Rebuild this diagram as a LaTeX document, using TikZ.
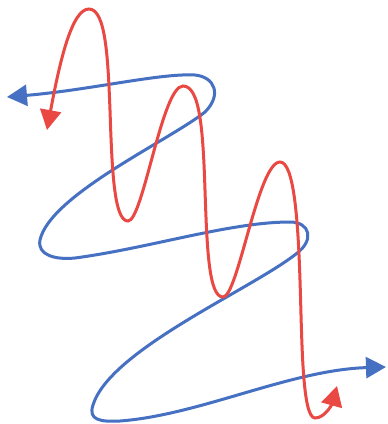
\documentclass[tikz,border=0pt]{standalone}
\usetikzlibrary{arrows.meta}
\definecolor{cred}{RGB}{234,72,66}
\definecolor{cblue}{RGB}{70,112,194}
\tikzset{
  wave/.style={line width=3pt, line cap=round, {Triangle[length=20pt,width=21pt]}-{Triangle[length=20pt,width=21pt]}},
}
\begin{document}
\begin{tikzpicture}[x=1pt,y=-1pt]
\useasboundingbox[fill=white] (0,0) rectangle (388,424);
% blue curve
\draw[wave, cblue] (7,97) .. controls (90,90) and (160,73) .. (195,75)
  .. controls (215,77) and (222,95) .. (205,112)
  .. controls (170,140) and (50,195) .. (40,240)
  .. controls (37,255) and (55,260) .. (75,258)
  .. controls (150,248) and (230,222) .. (290,222)
  .. controls (310,222) and (315,240) .. (296,254)
  .. controls (250,290) and (110,350) .. (93,405)
  .. controls (88,420) and (100,422) .. (120,421)
  .. controls (200,415) and (290,370) .. (386,367);
% red curve
\draw[wave, cred] (47,130) .. controls (60,60) and (72,9) .. (89,9)
  .. controls (106,9) and (108,60) .. (110,110)
  .. controls (112,170) and (114,221) .. (128,221)
  .. controls (143,221) and (162,86) .. (183,86)
  .. controls (200,86) and (203,130) .. (205,190)
  .. controls (207,250) and (209,297) .. (223,297)
  .. controls (238,297) and (258,162) .. (280,162)
  .. controls (294,162) and (298,220) .. (300,280)
  .. controls (302,340) and (302,418) .. (315,418)
  .. controls (325,418) and (332,404) .. (337,386);
\end{tikzpicture}
\end{document}
